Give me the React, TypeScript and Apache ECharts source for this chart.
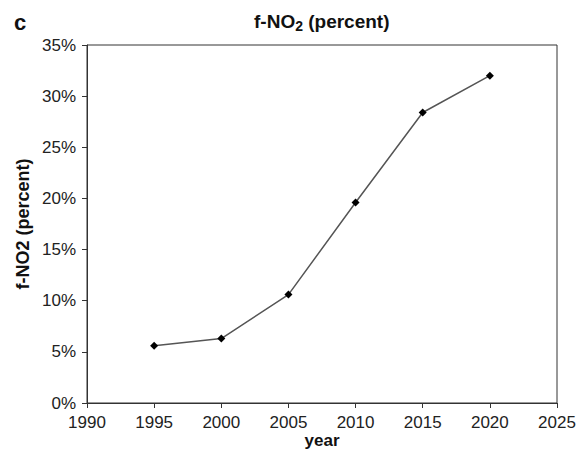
import React, { useEffect, useRef } from "react";
import * as echarts from "echarts";

const years = [1995, 2000, 2005, 2010, 2015, 2020];
const fNO2 = [5.6, 6.3, 10.6, 19.6, 28.4, 32.0];
const xTicks = { min: 1990, max: 2025, interval: 5 };
const yTicks = { min: 0, max: 35, interval: 5 };

const FONT = "'Liberation Sans', Arial, Helvetica, sans-serif";

export default function App() {
  const ref = useRef<HTMLDivElement>(null);
  useEffect(() => {
    if (!ref.current) return;
    const chart = echarts.init(ref.current, null, { renderer: "svg" });
    const option = {
      animation: false,
      backgroundColor: "#ffffff",
      textStyle: { fontFamily: FONT },
      title: {
        text: "{a|f-NO}{b|2}{a| (percent)}",
        left: 249,
        top: 4,
        textStyle: {
          rich: {
            a: { fontFamily: FONT, fontSize: 19, fontWeight: "bold", color: "#111" },
            b: { fontFamily: FONT, fontSize: 14, fontWeight: "bold", color: "#111", padding: [10, 0, 0, 0] },
          },
        },
      },
      graphic: [
        {
          type: "text",
          left: 14,
          top: 11,
          style: { text: "c", font: `bold 22px ${FONT}`, fill: "#111" },
        },
      ],
      grid: {
        left: 87,
        right: 21,
        top: 45,
        bottom: 48,
        show: true,
        borderColor: "#333",
        borderWidth: 1,
        containLabel: false,
        outerBoundsMode: "none",
      },
      xAxis: {
        type: "value",
        min: xTicks.min,
        max: xTicks.max,
        interval: xTicks.interval,
        name: "year",
        nameLocation: "middle",
        nameGap: 29,
        nameMoveOverlap: false,
        nameTextStyle: { fontFamily: FONT, fontSize: 17, fontWeight: "bold", color: "#111", verticalAlign: "top", lineHeight: 17 },
        axisLine: { show: true, lineStyle: { color: "#333", width: 1 } },
        axisTick: { show: true, inside: false, length: 5, lineStyle: { color: "#333" } },
        axisLabel: { fontFamily: FONT, fontSize: 17, color: "#222", margin: 11, formatter: (v: number) => String(v) },
        splitLine: { show: false },
      },
      yAxis: {
        type: "value",
        min: yTicks.min,
        max: yTicks.max,
        interval: yTicks.interval,
        name: "f-NO2 (percent)",
        nameLocation: "middle",
        nameGap: 55,
        nameMoveOverlap: false,
        nameRotate: 90,
        nameTextStyle: { fontFamily: FONT, fontSize: 18, fontWeight: "bold", color: "#111" },
        axisLine: { show: true, lineStyle: { color: "#333", width: 1 } },
        axisTick: { show: true, inside: false, length: 5, lineStyle: { color: "#333" } },
        axisLabel: { fontFamily: FONT, fontSize: 17, color: "#222", margin: 11, formatter: "{value}%" },
        splitLine: { show: false },
      },
      series: [
        {
          type: "line",
          data: years.map((y, i) => [y, fNO2[i]]),
          symbol: "diamond",
          symbolSize: 8,
          itemStyle: { color: "#000" },
          lineStyle: { color: "#555", width: 1.5 },
        },
      ],
    };
    chart.setOption(option as any);
    return () => chart.dispose();
  }, []);
  return (
    <div
      ref={ref}
      style={{ position: "fixed", left: 0, top: 0, width: 578, height: 451, background: "#fff" }}
    />
  );
}
